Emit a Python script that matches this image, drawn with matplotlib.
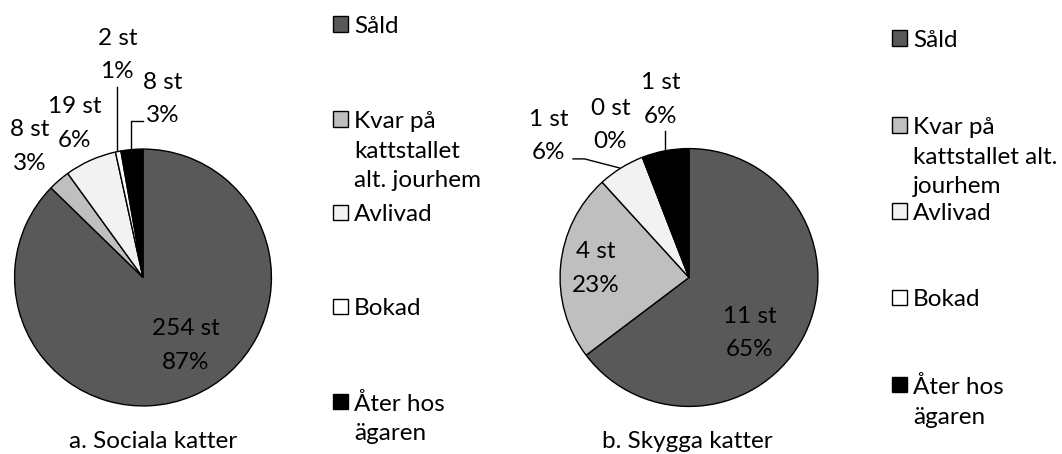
import numpy as np
import matplotlib
matplotlib.use("Agg")
import matplotlib.pyplot as plt
from matplotlib.patches import Rectangle

plt.rcParams["font.family"] = ["Lato", "DejaVu Sans"]

W, H = 1062, 454

categories = ["Såld", "Kvar på kattstallet alt. jourhem", "Avlivad", "Bokad", "Åter hos ägaren"]
colors = ["#595959", "#bfbfbf", "#f2f2f2", "#ffffff", "#000000"]

social_counts = [254, 8, 19, 2, 8]
social_pct = [87, 3, 6, 1, 3]
shy_counts = [11, 4, 1, 0, 1]
shy_pct = [65, 23, 6, 0, 6]

titles = ["a. Sociala katter", "b. Skygga katter"]

# label positions in pie units (radius = 1)
social_label_pos = [(0.33, -0.53), (-0.88, 1.02), (-0.53, 1.20), (-0.20, 1.73), (0.15, 1.39)]
shy_label_pos = [(0.47, -0.43), (-0.72, 0.07), (-1.09, 1.10), (-0.61, 1.18), (-0.22, 1.38)]

FS = 17.5


def px_box(cx, cy, r):
    return [(cx - r) / W, (H - cy - r) / H, 2 * r / W, 2 * r / H]


def draw_pie(ax, counts, pct, label_pos):
    # Excel-style: first slice starts at 12 o'clock, clockwise; zero slices kept
    vals = [c if c > 0 else 1e-9 for c in counts]
    ax.pie(vals, colors=colors, startangle=90, counterclock=False,
           wedgeprops=dict(edgecolor="black", linewidth=1.0), radius=1)
    ax.set_xlim(-1.02, 1.02)
    ax.set_ylim(-1.02, 1.02)
    ax.set_aspect("equal")
    ax.axis("off")
    for (x, y), c, p in zip(label_pos, counts, pct):
        ax.text(x, y, f"{c} st\n{p}%", ha="center", va="center",
                fontsize=FS, linespacing=1.72, clip_on=False)


fig = plt.figure(figsize=(W / 100, H / 100), dpi=100)

ax1 = fig.add_axes(px_box(143, 277.5, 131))
draw_pie(ax1, social_counts, social_pct, social_label_pos)
# leader lines
ax1.plot([-0.20, -0.20], [0.99, 1.48], color="black", lw=1, clip_on=False)
ax1.plot([-0.09, -0.09, 0.0], [0.996, 1.22, 1.22], color="black", lw=1, clip_on=False)

ax2 = fig.add_axes(px_box(689, 277.5, 131.5))
draw_pie(ax2, shy_counts, shy_pct, shy_label_pos)
ax2.plot([-0.90, -0.81, -0.54], [0.92, 0.92, 0.85], color="black", lw=1, clip_on=False)
ax2.plot([-0.19, -0.19], [0.985, 1.14], color="black", lw=1, clip_on=False)

fig.text(153 / W, 1 - 441 / H, titles[0], ha="center", va="center", fontsize=FS)
fig.text(687 / W, 1 - 442 / H, titles[1], ha="center", va="center", fontsize=FS)

# legends
left_labels = ["Såld", "Kvar på\nkattstallet\nalt. jourhem", "Avlivad", "Bokad", "Åter hos\nägaren"]
right_labels = ["Såld", "Kvar på\nkattstallet alt.\njourhem", "Avlivad", "Bokad", "Åter hos\nägaren"]
left_y = [24, 119, 212, 306, 401]
right_y = [38, 125, 211, 297, 384]


def draw_legend(x0, ys, labels):
    for y, lab, col in zip(ys, labels, colors):
        fig.patches.append(Rectangle((x0 / W, 1 - (y + 7.5) / H), 15 / W, 15 / H,
                                     transform=fig.transFigure, facecolor=col,
                                     edgecolor="black", linewidth=1))
        fig.text((x0 + 21) / W, 1 - (y - 8) / H, lab, ha="left", va="top",
                 fontsize=FS, linespacing=1.5)


draw_legend(333, left_y, left_labels)
draw_legend(892, right_y, right_labels)

fig.savefig("out.png", dpi=100)
